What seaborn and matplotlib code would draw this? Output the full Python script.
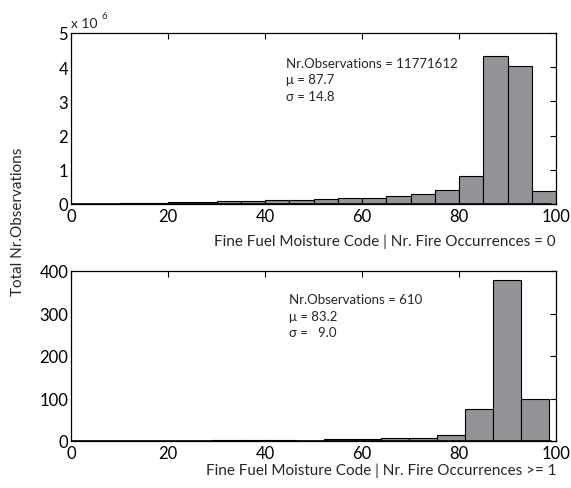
import matplotlib
matplotlib.use("Agg")
import matplotlib.pyplot as plt
import seaborn as sns
import numpy as np

# ---- data ----
top_edges = [0, 5, 10, 15, 20, 25, 30, 35, 40, 45, 50, 55, 60, 65, 70, 75, 80, 85, 90, 95, 100]
top_centers = [2.5, 7.5, 12.5, 17.5, 22.5, 27.5, 32.5, 37.5, 42.5, 47.5,
               52.5, 57.5, 62.5, 67.5, 72.5, 77.5, 82.5, 87.5, 92.5, 97.5]
top_counts = [5e3, 1e4, 3e4, 4e4, 5e4, 6.8e4, 7.8e4, 9.7e4, 1.07e5, 1.27e5,
              1.46e5, 1.66e5, 1.85e5, 2.2e5, 2.8e5, 4.2e5, 8.1e5, 4.32e6, 4.04e6, 3.9e5]

bot_edges = [0.24, 6.02, 11.8, 17.58, 23.36, 29.14, 34.92, 40.7, 46.48, 52.26,
             58.04, 63.82, 69.6, 75.38, 81.16, 86.94, 92.72, 98.5]
bot_centers = [3.13, 8.91, 14.69, 20.47, 26.25, 32.03, 37.81, 43.59, 49.37, 55.15,
               60.93, 66.71, 72.49, 78.27, 84.05, 89.83, 95.61]
bot_counts = [0, 0, 0, 0, 0, 1.5, 3, 3, 1, 5.5, 5.5, 7.8, 7.8, 13.3, 76, 380, 100]

xticks = [0, 20, 40, 60, 80, 100]
top_yticks = [0, 1, 2, 3, 4, 5]
bot_yticks = [0, 100, 200, 300, 400]

top_xlabel = "Fine Fuel Moisture Code | Nr. Fire Occurrences = 0"
bot_xlabel = "Fine Fuel Moisture Code | Nr. Fire Occurrences >= 1"
ylabel = "Total Nr.Observations"
top_note = "Nr.Observations = 11771612\nμ = 87.7\nσ = 14.8"
bot_note = "Nr.Observations = 610\nμ = 83.2\nσ =   9.0"

sns.set_style("white")
plt.rcParams['font.family'] = ['Lato', 'DejaVu Sans']

W, H = 571, 489
fig = plt.figure(figsize=(W / 100, H / 100), dpi=100)
ax1 = fig.add_axes([71 / W, 1 - 205 / H, (556 - 71) / W, (205 - 34) / H])
ax2 = fig.add_axes([71 / W, 1 - 442 / H, (556 - 71) / W, (442 - 272) / H])

bar_color = "#929396"
top_scaled = [c / 1e6 for c in top_counts]
sns.histplot(x=top_centers, weights=top_scaled, bins=top_edges, ax=ax1,
             color=bar_color, alpha=1, edgecolor="black", linewidth=0.8)
sns.histplot(x=bot_centers, weights=bot_counts, bins=bot_edges, ax=ax2,
             color=bar_color, alpha=1, edgecolor="black", linewidth=0.8)

for ax, yt, xl, lp in [(ax1, top_yticks, top_xlabel, 7), (ax2, bot_yticks, bot_xlabel, 1)]:
    ax.set_xlim(0, 100)
    ax.set_ylim(yt[0], yt[-1])
    ax.set_xticks(xticks)
    ax.set_yticks(yt)
    ax.set_xticklabels([str(v) for v in xticks])
    ax.set_yticklabels([str(v) for v in yt])
    ax.tick_params(direction="in", length=4, width=0.8, top=True, right=True,
                   labelsize=12, pad=3, colors="black", labelcolor="black")
    ax.tick_params(axis="y", pad=2)
    for s in ax.spines.values():
        s.set_color("black")
        s.set_linewidth(0.9)
        s.set_visible(True)
    ax.set_ylabel("")
    ax.set_xlabel(xl, fontsize=11, loc="right", labelpad=lp)
    ax.axhline(0, color="black", linewidth=1.2, xmax=0.99)

ax1.text(0.443, 0.86, top_note, transform=ax1.transAxes, fontsize=9.5,
         va="top", ha="left", linespacing=1.45)
ax2.text(0.45, 0.87, bot_note, transform=ax2.transAxes, fontsize=9.5,
         va="top", ha="left", linespacing=1.45)

fig.text(71 / W, 1 - 28 / H, "x 10", fontsize=10, ha="left", va="baseline")
fig.text(101 / W, 1 - 19 / H, "6", fontsize=7, ha="left", va="baseline")
fig.text(18 / W, 1 - 222 / H, ylabel, rotation=90, fontsize=11,
         ha="center", va="center")

fig.savefig("out.png", dpi=100)
